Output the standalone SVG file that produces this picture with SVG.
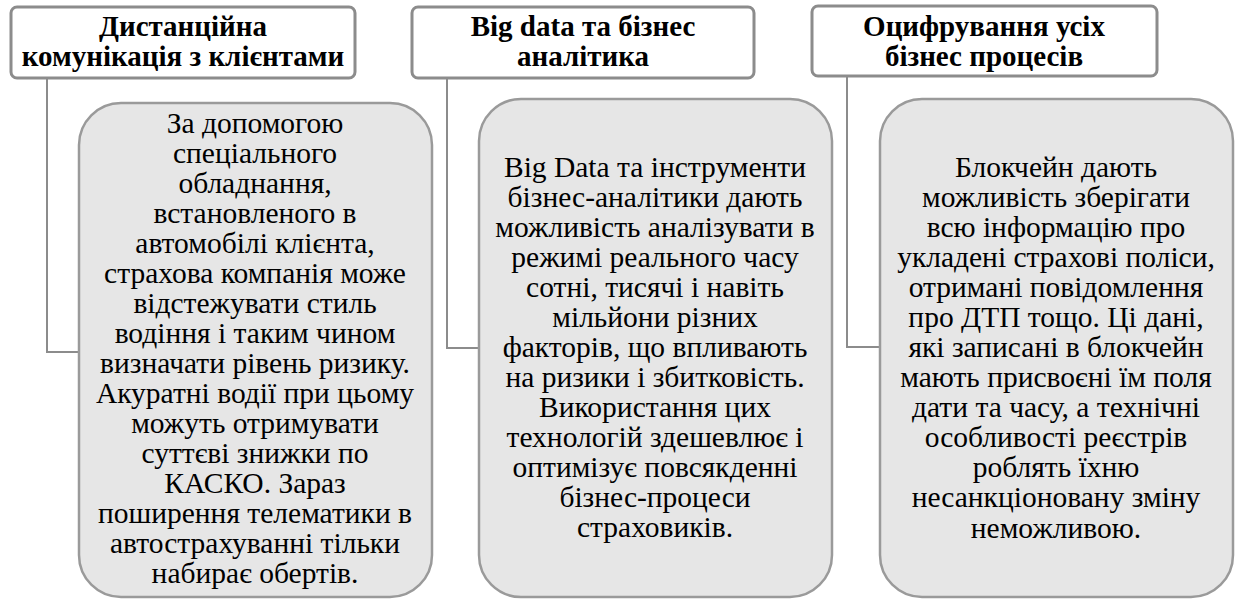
<svg xmlns="http://www.w3.org/2000/svg" width="1238" height="599" viewBox="0 0 1238 599">
<style>
.hdr{fill:#ffffff;stroke:#8c8c8c;stroke-width:3}
.body{fill:#e6e6e6;stroke:#9a9a9a;stroke-width:2.5}
.conn{fill:none;stroke:#8c8c8c;stroke-width:2}
.ht{font-family:"Liberation Serif","Times New Roman",serif;font-weight:bold;font-size:29px;fill:#000;text-anchor:middle}
.bt{font-family:"Liberation Serif","Times New Roman",serif;font-size:29.5px;fill:#000;text-anchor:middle}
</style>
<rect width="1238" height="599" fill="#ffffff"/>
<g id="connectors">
<polyline class="conn" points="47,78 47,352 80,352"/>
<polyline class="conn" points="447,78 447,348 480,348"/>
<polyline class="conn" points="847,77 847,347 881,347"/>
</g>
<g id="header1">
<rect class="hdr" x="11" y="7" width="344" height="71" rx="6"/>
<text class="ht" x="183" y="36">Дистанційна</text>
<text class="ht" x="183" y="66">комунікація з клієнтами</text>
</g>
<g id="header2">
<rect class="hdr" x="412" y="7" width="342" height="71" rx="6"/>
<text class="ht" x="583" y="36">Big data та бізнес</text>
<text class="ht" x="583" y="66">аналітика</text>
</g>
<g id="header3">
<rect class="hdr" x="812" y="6" width="345" height="70" rx="6"/>
<text class="ht" x="984" y="36">Оцифрування усіх</text>
<text class="ht" x="984" y="66">бізнес процесів</text>
</g>
<g id="body1">
<rect class="body" x="79" y="103" width="353" height="494" rx="42"/>
<text class="bt" x="255" y="133">За допомогою</text>
<text class="bt" x="255" y="163">спеціального</text>
<text class="bt" x="255" y="193">обладнання,</text>
<text class="bt" x="255" y="223">встановленого в</text>
<text class="bt" x="255" y="253">автомобілі клієнта,</text>
<text class="bt" x="255" y="283">страхова компанія може</text>
<text class="bt" x="255" y="313">відстежувати стиль</text>
<text class="bt" x="255" y="343">водіння і таким чином</text>
<text class="bt" x="255" y="373">визначати рівень ризику.</text>
<text class="bt" x="255" y="403">Акуратні водії при цьому</text>
<text class="bt" x="255" y="433">можуть отримувати</text>
<text class="bt" x="255" y="463">суттєві знижки по</text>
<text class="bt" x="255" y="493">КАСКО. Зараз</text>
<text class="bt" x="255" y="523">поширення телематики в</text>
<text class="bt" x="255" y="553">автострахуванні тільки</text>
<text class="bt" x="255" y="583">набирає обертів.</text>
</g>
<g id="body2">
<rect class="body" x="479" y="99" width="353" height="498" rx="42"/>
<text class="bt" x="655" y="177">Big Data та інструменти</text>
<text class="bt" x="655" y="207">бізнес-аналітики дають</text>
<text class="bt" x="655" y="237">можливість аналізувати в</text>
<text class="bt" x="655" y="267">режимі реального часу</text>
<text class="bt" x="655" y="297">сотні, тисячі і навіть</text>
<text class="bt" x="655" y="327">мільйони різних</text>
<text class="bt" x="655" y="357">факторів, що впливають</text>
<text class="bt" x="655" y="387">на ризики і збитковість.</text>
<text class="bt" x="655" y="417">Використання цих</text>
<text class="bt" x="655" y="447">технологій здешевлює і</text>
<text class="bt" x="655" y="477">оптимізує повсякденні</text>
<text class="bt" x="655" y="507">бізнес-процеси</text>
<text class="bt" x="655" y="537">страховиків.</text>
</g>
<g id="body3">
<rect class="body" x="880" y="99" width="353" height="498" rx="42"/>
<text class="bt" x="1056" y="177">Блокчейн дають</text>
<text class="bt" x="1056" y="207">можливість зберігати</text>
<text class="bt" x="1056" y="237">всю інформацію про</text>
<text class="bt" x="1056" y="267">укладені страхові поліси,</text>
<text class="bt" x="1056" y="297">отримані повідомлення</text>
<text class="bt" x="1056" y="327">про ДТП тощо. Ці дані,</text>
<text class="bt" x="1056" y="357">які записані в блокчейн</text>
<text class="bt" x="1056" y="387">мають присвоєні їм поля</text>
<text class="bt" x="1056" y="417">дати та часу, а технічні</text>
<text class="bt" x="1056" y="447">особливості реєстрів</text>
<text class="bt" x="1056" y="477">роблять їхню</text>
<text class="bt" x="1056" y="507">несанкціоновану зміну</text>
<text class="bt" x="1056" y="538">неможливою.</text>
</g>
</svg>
